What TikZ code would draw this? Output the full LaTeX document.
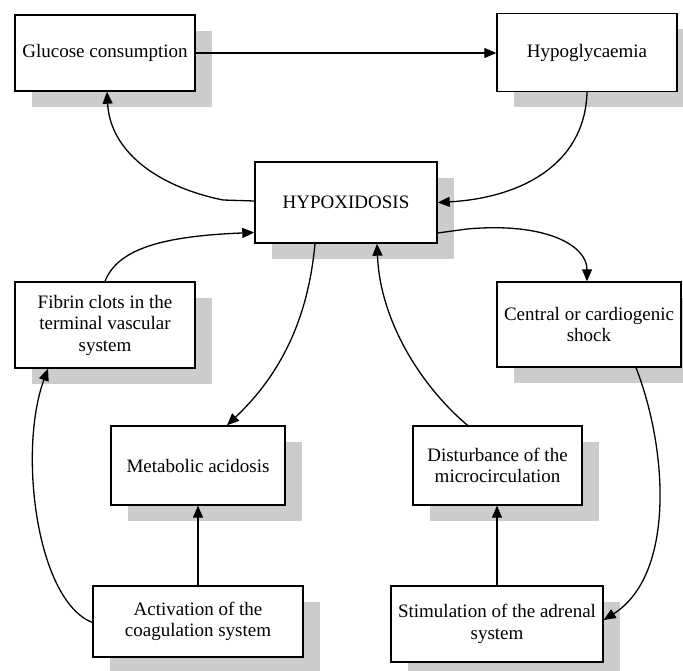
\documentclass[tikz,border=0pt]{standalone}
\usepackage{fontspec}
\setmainfont{Liberation Serif}
\usetikzlibrary{arrows.meta,shadows}
\begin{document}
\begin{tikzpicture}[x=1pt,y=-1pt,
  box/.style={draw=black, line width=1.4pt, fill=white, align=center,
    inner sep=0pt, font=\fontsize{19}{21.5}\selectfont,
    general shadow={fill=black!20, shadow xshift=17pt, shadow yshift=-16pt}},
  conn/.style={line width=1.3pt, -{Triangle[length=12pt,width=10pt]}}]
\useasboundingbox (0,0) rectangle (683,671);
\clip (0,0) rectangle (683,671);
\node[box, minimum width=180pt, minimum height=76pt] (G) at (105,53) {Glucose consumption};
\node[box, minimum width=180pt, minimum height=78pt] (H) at (587,52.5) {Hypoglycaemia};
\node[box, minimum width=182pt, minimum height=81pt] (X) at (346,202.5) {HYPOXIDOSIS};
\node[box, minimum width=180pt, minimum height=86pt] (F) at (105,325) {Fibrin clots in the\\terminal vascular\\system};
\node[box, minimum width=184pt, minimum height=85pt] (C) at (589,324.5) {Central or cardiogenic\\shock};
\node[box, minimum width=174pt, minimum height=79pt] (M) at (198,465.5) {Metabolic acidosis};
\node[box, minimum width=169pt, minimum height=79pt] (D) at (497.5,465.5) {Disturbance of the\\microcirculation};
\node[box, minimum width=210pt, minimum height=71pt] (A) at (198,621.5) {Activation of the\\coagulation system};
\node[box, minimum width=212pt, minimum height=76pt] (S) at (497,624) {Stimulation of the adrenal\\system};

\coordinate (xl) at (223,200);
\coordinate (xr) at (467,229);

\draw[conn] (G.east) -- (H.west |- G.east);
\draw[conn] (H.south) .. controls (585,165) and (520,198) .. (X.east);
\draw[conn] ([yshift=1.5pt]X.west) -- (xl) .. controls (155,186) and (110,150) .. ([xshift=2pt]G.south);
\draw[conn] (F.north) .. controls (118,248) and (165,236) .. ([yshift=-30pt]X.west);
\draw[conn] ([yshift=-30.5pt]X.east) -- (xr) .. controls (545,222) and (587,245) .. ([xshift=-2pt]C.north);
\draw[conn] ([xshift=-31pt]X.south) .. controls (308,320) and (280,375) .. ([xshift=29pt]M.north);
\draw[conn] ([xshift=-30pt]D.north) .. controls (420,385) and (380,320) .. ([xshift=31pt]X.south);
\draw[conn] (A.north) -- (M.south);
\draw[conn] (S.north) -- (D.south -| S.north);
\draw[conn] ([yshift=-1pt]A.west) .. controls (36,600) and (18,450) .. ([xshift=-57pt]F.south);
\draw[conn] ([xshift=47pt]C.south) .. controls (668,450) and (675,575) .. ([yshift=4pt]S.east);
\end{tikzpicture}
\end{document}
